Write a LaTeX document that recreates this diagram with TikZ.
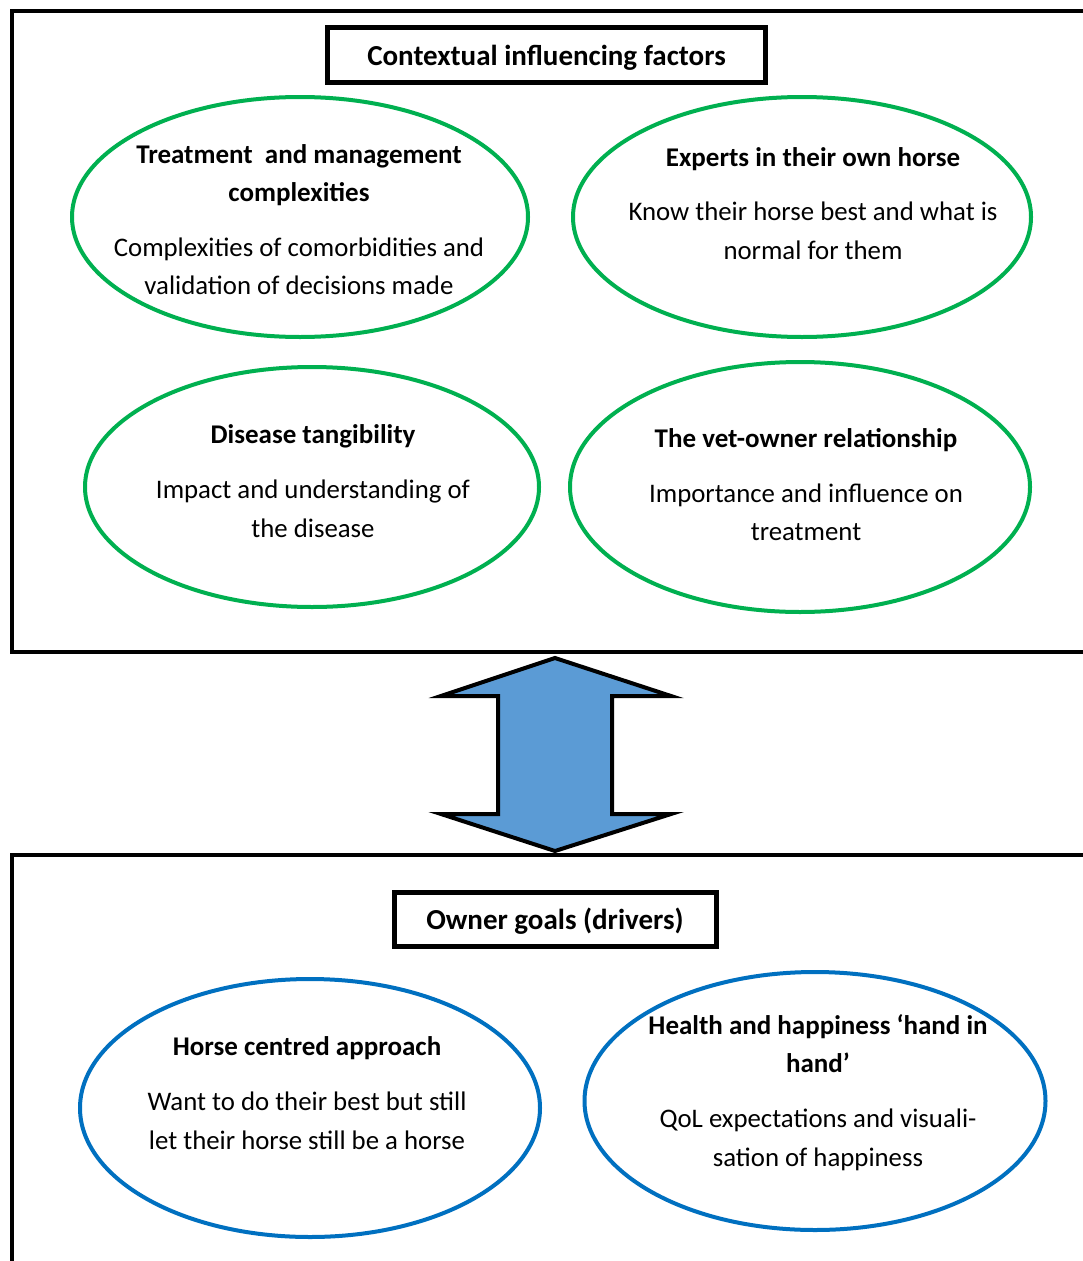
\documentclass[tikz,border=0pt]{standalone}
\usepackage{fontspec}
\setmainfont{Carlito}
\usetikzlibrary{shapes.geometric}
\definecolor{egreen}{HTML}{00B050}
\definecolor{eblue}{HTML}{0070C0}
\definecolor{afill}{HTML}{5B9BD5}
\begin{document}
\begin{tikzpicture}[x=1pt,y=-1pt,
  frame/.style={draw=black,line width=4pt},
  titlebox/.style={draw=black,line width=5pt,inner sep=0pt},
  titletext/.style={anchor=base,inner sep=0pt,font=\fontsize{29}{34}\selectfont\bfseries},
  gell/.style={ellipse,draw=egreen,line width=4pt,inner sep=0pt},
  bell/.style={ellipse,draw=eblue,line width=4pt,inner sep=0pt},
  hd/.style={anchor=base,inner sep=0pt,font=\fontsize{27}{30}\selectfont\bfseries},
  bd/.style={anchor=base,inner sep=0pt,font=\fontsize{26.8}{30}\selectfont},
  bigarrow/.style={draw=black,fill=afill,line width=4pt,miter limit=20},
]
\clip (0,0) rectangle (1083,1261);
\fill[white] (0,0) rectangle (1083,1261);
% frames
\draw[frame] (12,10.5) rectangle (1100,652);
\draw[frame] (12,855) rectangle (1100,1300);
% titles
\node[titlebox,minimum width=438pt,minimum height=55pt] (t1) at (546.5,55) {};
\node[titletext] (t1t) at (546.5,65.5) {Contextual influencing factors};
\node[titlebox,minimum width=322pt,minimum height=54pt] (t2) at (555,919) {};
\node[titletext] (t2t) at (555,929.5) {Owner goals (drivers)};
% ellipses
\node[gell,minimum width=456pt,minimum height=240pt] (e1) at (300,217) {};
\node[gell,minimum width=458pt,minimum height=240pt] (e2) at (802,217) {};
\node[gell,minimum width=454pt,minimum height=240pt] (e3) at (312,487) {};
\node[gell,minimum width=460pt,minimum height=250pt] (e4) at (800,487) {};
\node[bell,minimum width=460pt,minimum height=258pt] (e5) at (310,1108) {};
\node[bell,minimum width=461pt,minimum height=258pt] (e6) at (815,1101) {};
% texts
\node[hd] (a1) at (299,163) {Treatment\ \ and management};
\node[hd] (a2) at (299,201) {complexities};
\node[bd] (a3) at (299,256) {Complexities of comorbidities and};
\node[bd] (a4) at (299,294) {validation of decisions made};
\node[hd] (b1) at (813,166) {Experts in their own horse};
\node[bd] (b2) at (813,220) {Know their horse best and what is};
\node[bd] (b3) at (813,259) {normal for them};
\node[hd] (c1) at (313,443) {Disease tangibility};
\node[bd] (c2) at (313,498) {Impact and understanding of};
\node[bd] (c3) at (313,537) {the disease};
\node[hd] (d1) at (806,447) {The vet-owner relationship};
\node[bd] (d2) at (806,502) {Importance and influence on};
\node[bd] (d3) at (806,540) {treatment};
\node[hd] (f1) at (307,1055) {Horse centred approach};
\node[bd] (f2) at (307,1110) {Want to do their best but still};
\node[bd] (f3) at (307,1149) {let their horse still be a horse};
\node[hd] (g1) at (818,1034) {Health and happiness ‘hand in};
\node[hd] (g2) at (818,1072) {hand’};
\node[bd] (g3) at (818,1127) {QoL expectations and visuali-};
\node[bd] (g4) at (818,1166) {sation of happiness};
% double arrow
\draw[bigarrow] (555,658) -- (671,696) -- (612,696) -- (612,814) -- (671,814) -- (555,851)
  -- (441,814) -- (498,814) -- (498,696) -- (441,696) -- cycle;
\end{tikzpicture}
\end{document}
